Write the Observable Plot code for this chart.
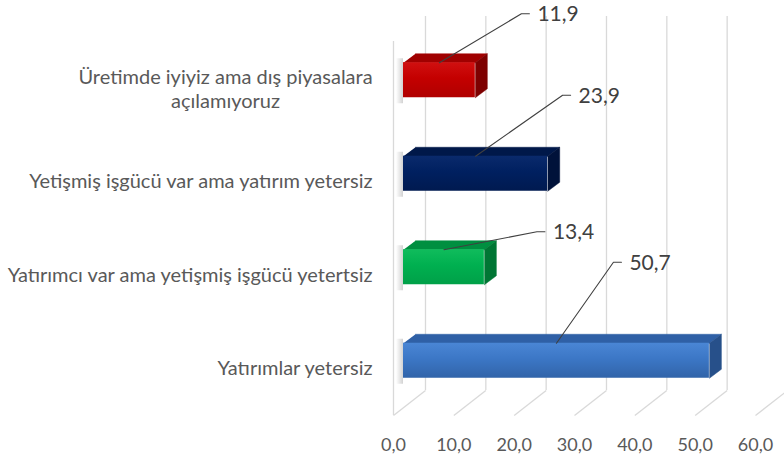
<!DOCTYPE html>
<html>
<head>
<meta charset="utf-8">
<script src="https://cdn.jsdelivr.net/npm/d3@7"></script>
<script src="https://cdn.jsdelivr.net/npm/@observablehq/plot@0.6"></script>
<style>
  html, body { margin: 0; padding: 0; background: #fff; overflow: hidden; }
  #chart { width: 784px; height: 455px; }
</style>
</head>
<body>
<div id="chart"></div>
<script>
// ---- data ----
const categories = [
  "Üretimde iyiyiz ama dış piyasalara\naçılamıyoruz",
  "Yetişmiş işgücü var ama yatırım yetersiz",
  "Yatırımcı var ama yetişmiş işgücü yetertsiz",
  "Yatırımlar yetersiz"
];
const values = [11.9, 23.9, 13.4, 50.7];
const valueLabels = ["11,9", "23,9", "13,4", "50,7"];
const xTicks = [0, 10, 20, 30, 40, 50, 60];
const xTickLabels = ["0,0", "10,0", "20,0", "30,0", "40,0", "50,0", "60,0"];

// ---- styles ----
const frontStops = [
  ["#d01010", "#c40000", "#b00000"],
  ["#0a2a6c", "#002060", "#001a50"],
  ["#10bc5c", "#00b050", "#00a048"],
  ["#4a86d5", "#3c77c6", "#3164a9"]
];
const topColors = ["#a00000", "#001849", "#008f40", "#2f60a6"];
const sideColors = ["#7e0000", "#00123a", "#007634", "#27508a"];
// label leader offsets in px (elbow relative to anchor)
const leaderOffsets = [[82, -49], [87, -61], [93, -18], [57, -81]];

// ---- layout ----
const W = 784, H = 455, mL = 393, mR = 29, mT = 41, mB = 40;
const xMax = 60;
const kx = (W - mL - mR) / xMax;
const ky = (H - mT - mB) / categories.length;
const ux = p => p / kx;
const uy = p => p / ky;
const wall = [32, -25];      // back-wall depth offset (px)
const barF = [10, -8];       // bar front-plane offset (px)
const barB = [22, -17];      // bar back-plane offset (px)
const hh = uy(17.5);         // bar half-height (data units)
const yTop = -0.5, yBot = categories.length - 0.5;
const font = "Lato, 'Open Sans', sans-serif";

const rows = categories.map((c, i) => ({c, i, v: values[i], label: valueLabels[i]}));

const marks = [];
// back wall vertical gridlines
marks.push(Plot.ruleX(xTicks, {
  x: d => d + ux(wall[0]), y1: yTop + uy(wall[1]), y2: yBot + uy(wall[1]),
  stroke: "#d9d9d9", strokeWidth: 1.3
}));
// floor diagonals
marks.push(Plot.link(xTicks, {
  x1: d => d, y1: yBot, x2: d => d + ux(wall[0]), y2: yBot + uy(wall[1]),
  stroke: "#d9d9d9", strokeWidth: 1.3
}));
// side wall front edge
marks.push(Plot.ruleX([0], {y1: yTop, y2: yBot, stroke: "#d9d9d9", strokeWidth: 1.3}));

rows.forEach(r => {
  const y0 = r.i - hh, y1 = r.i + hh;
  // soft shadow at the left end
  marks.push(Plot.rect([r], {
    x1: () => ux(3), x2: () => ux(barF[0]),
    y1: () => y0 + uy(-12), y2: () => y1 + uy(-2),
    fill: "url(#shadowGrad)"
  }));
  // top face
  const top = [
    {x: ux(barF[0]), y: y0 + uy(barF[1])},
    {x: r.v + ux(barF[0]), y: y0 + uy(barF[1])},
    {x: r.v + ux(barB[0]), y: y0 + uy(barB[1])},
    {x: ux(barB[0]), y: y0 + uy(barB[1])}
  ];
  marks.push(Plot.line(top, {x: "x", y: "y", fill: topColors[r.i], stroke: topColors[r.i], strokeWidth: 0.5}));
  // side face
  const side = [
    {x: r.v + ux(barF[0]), y: y0 + uy(barF[1])},
    {x: r.v + ux(barB[0]), y: y0 + uy(barB[1])},
    {x: r.v + ux(barB[0]), y: y1 + uy(barB[1])},
    {x: r.v + ux(barF[0]), y: y1 + uy(barF[1])}
  ];
  marks.push(Plot.line(side, {x: "x", y: "y", fill: sideColors[r.i], stroke: sideColors[r.i], strokeWidth: 0.5}));
  // front face
  marks.push(Plot.rect([r], {
    x1: () => ux(barF[0]), x2: d => d.v + ux(barF[0]),
    y1: () => y0 + uy(barF[1]), y2: () => y1 + uy(barF[1]),
    fill: `url(#front${r.i})`
  }));
  // leader line
  const ax = r.v / 2 + ux(barF[0]), ay = y0 + uy(barF[1]);
  const ex = ax + ux(leaderOffsets[r.i][0]), ey = ay + uy(leaderOffsets[r.i][1]);
  const fx = ex + ux(8);
  marks.push(Plot.line([{x: ax, y: ay}, {x: ex, y: ey}, {x: fx, y: ey}], {
    x: "x", y: "y", stroke: "#404040", strokeWidth: 1.1
  }));
  marks.push(Plot.text([r], {
    x: () => fx, y: () => ey, text: "label", textAnchor: "start", lineAnchor: "middle",
    dx: 8, dy: 1, fontSize: 21, fill: "#404040", fontFamily: font
  }));
});

// category labels: single-line ones right-aligned
marks.push(Plot.text(rows.filter(d => !d.c.includes("\n")), {
  x: () => 0, y: "i", text: "c",
  textAnchor: "end", dx: -21, lineAnchor: "middle",
  fontSize: 20, fill: "#595959", fontFamily: font
}));
// wrapped label: lines centered within the block
marks.push(Plot.text(rows.filter(d => d.c.includes("\n")), {
  x: () => 0, y: "i", text: "c",
  textAnchor: "middle", dx: -168, lineAnchor: "middle", lineHeight: 1.2,
  fontSize: 20, fill: "#595959", fontFamily: font
}));

// x axis tick labels
marks.push(Plot.axisX({
  ticks: xTicks, tickFormat: d => xTickLabels[xTicks.indexOf(d)],
  tickSize: 0, tickPadding: 23, fontSize: 18, fill: "#595959", fontFamily: font, label: null
}));

const svg = Plot.plot({
  width: W, height: H,
  marginLeft: mL, marginRight: mR, marginTop: mT, marginBottom: mB,
  x: {domain: [0, xMax]},
  y: {domain: [yBot, yTop], axis: null},
  style: {fontFamily: font, background: "#fff"},
  marks
});

// gradients
const defs = d3.select(svg).insert("defs", ":first-child");
frontStops.forEach((stops, i) => {
  const g = defs.append("linearGradient").attr("id", `front${i}`)
    .attr("x1", 0).attr("y1", 0).attr("x2", 0).attr("y2", 1);
  g.append("stop").attr("offset", "0%").attr("stop-color", stops[0]);
  g.append("stop").attr("offset", "45%").attr("stop-color", stops[1]);
  g.append("stop").attr("offset", "100%").attr("stop-color", stops[2]);
});
const sg = defs.append("linearGradient").attr("id", "shadowGrad")
  .attr("x1", 0).attr("y1", 0).attr("x2", 1).attr("y2", 0);
sg.append("stop").attr("offset", "0%").attr("stop-color", "#808080").attr("stop-opacity", 0);
sg.append("stop").attr("offset", "100%").attr("stop-color", "#808080").attr("stop-opacity", 0.35);

document.getElementById("chart").appendChild(svg);
</script>
</body>
</html>
